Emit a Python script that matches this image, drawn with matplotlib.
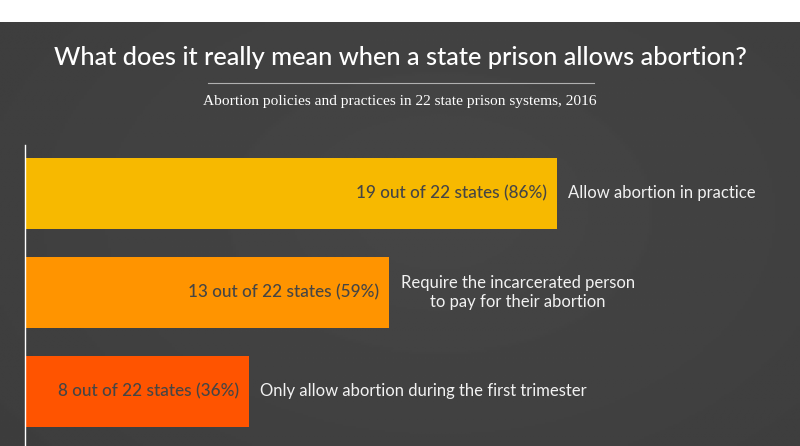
import numpy as np
import matplotlib.pyplot as plt
from matplotlib.patches import Rectangle

# data
states = [19, 13, 8]
total = 22
pcts = [86, 59, 36]
labels = ["Allow abortion in practice",
          "Require the incarcerated person\nto pay for their abortion",
          "Only allow abortion during the first trimester"]
colors = ["#f7b900", "#ff9400", "#ff5400"]

W, H = 800, 446
fig = plt.figure(figsize=(W / 100, H / 100), dpi=100)

# dark background with a soft vignette
bg = fig.add_axes([0, 0, 1, 1 - 22 / H])
yy, xx = np.mgrid[0:1:200j, 0:1:300j]
r = np.sqrt((xx - 0.55) ** 2 + ((yy - 0.45) * 0.8) ** 2)
bg.imshow(0.275 - 0.05 * r, cmap="gray", vmin=0, vmax=1, aspect="auto",
          extent=[0, 1, 0, 1])
bg.axis("off")
fig.patches.append(Rectangle((0, 1 - 22 / H), 1, 22 / H, transform=fig.transFigure,
                             color="white", zorder=-1))

fig.text(400 / W, 1 - 58 / H, "What does it really mean when a state prison allows abortion?",
         ha="center", va="center", color="white", fontsize=18.3, family="Lato",
         weight="medium")
fig.add_artist(plt.Line2D([208 / W, 594 / W], [1 - 83 / H, 1 - 83 / H],
                          color="#b0b0b0", lw=0.8))
fig.text(400 / W, 1 - 101 / H, "Abortion policies and practices in 22 state prison systems, 2016",
         ha="center", va="center", color="white", fontsize=11.1, family="Liberation Serif")

# bars
left = 25 / W
ax = fig.add_axes([left, 0, 1 - left, 1 - 145 / H])
ax.set_facecolor("none")
px = 28.0  # pixels per state
ax.set_xlim(0, (W - 25) / px)
ax.set_ylim(2 + 55 / 99, -48.5 / 99)
y = np.arange(len(states))
ax.barh(y, states, height=71 / 99, color=colors)
for i, (s, p, lab) in enumerate(zip(states, pcts, labels)):
    ax.text(s - 10 / px, i, f"{s} out of {total} states ({p}%)", ha="right", va="center",
            color="#454545", fontsize=12.3, family="Lato", weight="medium")
    if "\n" in lab:
        ax.text(s + 129 / px, i, lab, ha="center", va="center", color="#f2f2f2",
                fontsize=12, family="Lato", linespacing=1.2)
    else:
        ax.text(s + 11 / px, i, lab, ha="left", va="center", color="#f2f2f2",
                fontsize=12, family="Lato")
for sp in ["top", "right", "bottom"]:
    ax.spines[sp].set_visible(False)
ax.spines["left"].set_color("white")
ax.spines["left"].set_linewidth(1)
ax.set_xticks([])
ax.set_yticks([])

fig.savefig("out.png", dpi=100)
